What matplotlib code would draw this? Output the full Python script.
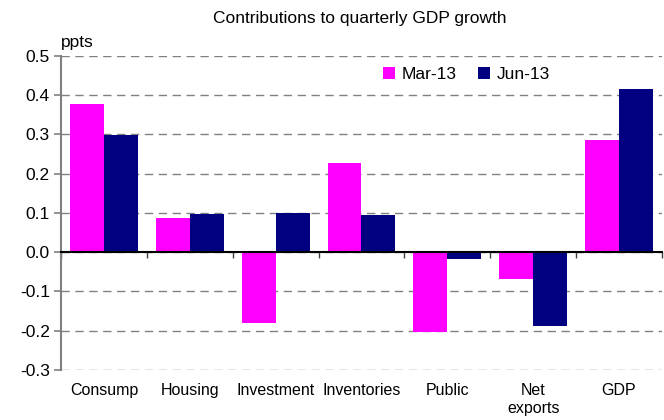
import numpy as np
import matplotlib.pyplot as plt
from matplotlib.ticker import MultipleLocator

plt.rcParams['font.family'] = ['Liberation Sans', 'DejaVu Sans']

# data
categories = ['Consump', 'Housing', 'Investment', 'Inventories', 'Public', 'Net\nexports', 'GDP']
mar13 = [0.378, 0.087, -0.181, 0.228, -0.203, -0.067, 0.287]
jun13 = [0.299, 0.098, 0.101, 0.094, -0.018, -0.187, 0.416]
series_names = ['Mar-13', 'Jun-13']
colors = ['#FF00FF', '#000080']

fig = plt.figure(figsize=(6.64, 4.2), dpi=100)
ax = fig.add_axes([0.0919, 0.119, 0.905, 0.748])

x = np.arange(len(categories))
w = 0.395
ax.bar(x - w / 2, mar13, w, color=colors[0], label=series_names[0], zorder=3)
ax.bar(x + w / 2, jun13, w, color=colors[1], label=series_names[1], zorder=3)

ax.set_xlim(-0.5, len(categories) - 0.5)
ax.set_ylim(-0.3, 0.5)
ax.yaxis.set_major_locator(MultipleLocator(0.1))
ax.yaxis.set_major_formatter(plt.FuncFormatter(lambda v, p: '%.1f' % v))
ax.grid(axis='y', color='#808080', linestyle=(0, (6, 4)), linewidth=1, zorder=0)

# zero line with boundary ticks
ax.spines['top'].set_visible(False)
ax.spines['right'].set_visible(False)
ax.spines['bottom'].set_position(('data', 0))
ax.spines['bottom'].set_color('black')
ax.spines['bottom'].set_linewidth(1.5)
ax.spines['bottom'].set_zorder(4)
ax.spines['left'].set_color('#808080')
ax.spines['left'].set_linewidth(1.5)
ax.set_xticks(np.arange(len(categories) + 1) - 0.5)
ax.set_xticklabels([])
ax.tick_params(axis='x', direction='out', length=4, color='#404040', width=1)
ax.tick_params(axis='y', direction='out', length=5, color='#808080', width=1.2,
               labelsize=12.5, pad=3)

for i, c in enumerate(categories):
    ax.text(i, -0.04, c, transform=ax.get_xaxis_transform(), ha='center',
            va='top', fontsize=11.5, linespacing=1.3)

ax.text(0, 1.02, 'ppts', transform=ax.transAxes, fontsize=12.5, va='bottom')
fig.text(0.542, 0.957, 'Contributions to quarterly GDP growth', ha='center',
         va='center', fontsize=12.5)

ax.legend(loc='upper left', bbox_to_anchor=(0.53, 0.975), ncol=2, frameon=False,
          fontsize=12.5, handlelength=0.7, handleheight=0.7, handletextpad=0.4,
          columnspacing=1.2, borderaxespad=0, borderpad=0.2)

fig.savefig('out.png', dpi=100)
